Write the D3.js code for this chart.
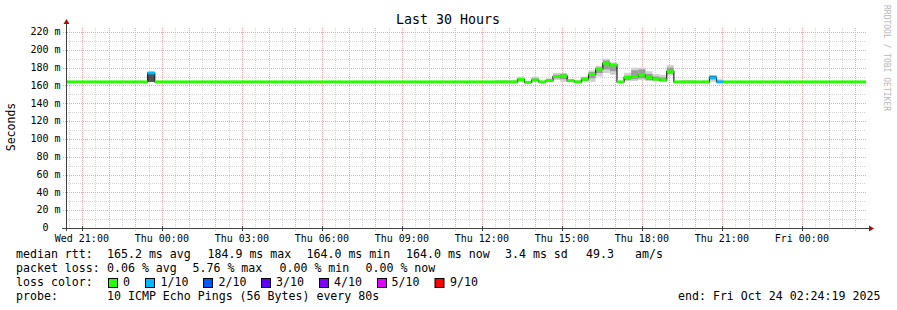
<!DOCTYPE html>
<html>
<head>
<meta charset="utf-8">
<script src="https://cdn.jsdelivr.net/npm/d3@7"></script>
<style>
  body { margin: 0; background: #fff; }
  svg text { font-family: "DejaVu Sans Mono", monospace; fill: #000; }
</style>
</head>
<body>
<svg id="chart" width="897" height="310"></svg>
<script>
// time window of the graph (30 hours ending at the "end:" stamp)
var windowStart = new Date(2025, 9, 22, 20, 24, 19);
var windowEnd = new Date(2025, 9, 24, 2, 24, 19);

// consolidated rrd rows: 16 minute buckets, first one starts Wed 20:16
var firstBucket = new Date(2025, 9, 22, 20, 16, 0);
var bucketMinutes = 16;
var bucketCount = 113;
var baselineMs = 164.0;

// buckets that differ from the flat baseline
var bucketIdx  = [12,  61,  62,  63,  64,    65,    66,  67,  68,    69,  70,    71,    72,  73,  74,    75,    76,    77,  78,  79,  80,  81,    82,  83,  84,  85,    86,  87,  88,  90,    91,    92];
var medianMs   = [174, 164, 164, 164, 166.7, 163.5, 166, 164, 165.5, 170, 170.6, 165.4, 164, 167, 172.5, 178.4, 184.8, 183, 164, 169, 170, 171.7, 169, 167, 166, 175.5, 164, 164, 164, 164,   168.5, 164];
var smokeLo    = [164, 164, 164, 164, 164,   163,   164, 164, 164,   166, 164,   164,   163, 164, 164,   170,   174,   172, 164, 165, 165, 166,   165, 165, 164, 171,   164, 164, 164, 164,   164,   164];
var smokeHi    = [174, 166, 166, 166, 170,   164.5, 170, 164, 168,   174, 174,   167,   166, 170, 177,   182,   190,   186, 164, 174, 180, 180,   176, 173, 172, 183,   164, 166, 166, 165.5, 171,   167];
var coreLo     = [164, 164, 164, 164, 165,   163.5, 165, 164, 164.5, 168, 167,   164,   164, 165, 168,   174,   178,   176, 164, 166, 167, 168,   166, 166, 165, 173,   164, 164, 164, 164,   168.5, 164];
var coreHi     = [174, 164, 164, 164, 168,   164,   168, 164, 167,   172, 173,   166,   164, 169, 175,   180,   188,   184, 164, 171, 177, 178,   173, 170, 169, 180,   164, 164, 164, 164,   171,   164];
var lossTenths = [1,   0,   0,   0,   0,     0,     0,   0,   0,     0,   0,     0,     0,   0,   0,     0,     0,     0,   0,   0,   0,   0,     0,   0,   0,   0,     0,   0,   0,   0,     1,     1];

// loss colour legend
var lossLabels = ["0", "1/10", "2/10", "3/10", "4/10", "5/10", "9/10"];
var lossColors = ["#26ff00", "#00b8ff", "#0059ff", "#5e00ff", "#7e00ff", "#dd00ff", "#ff0000"];
var lossSwatchX = [108.5, 145.5, 203.5, 261.5, 319.5, 377.5, 435];
var lossTextX = [123, 160.5, 218.5, 276, 334, 391.5, 450];

// legend rows: [x, text]
var rttRow = [[16, "median rtt:"], [107, "165.2 ms avg"], [207.5, "184.9 ms max"], [306.5, "164.0 ms min"], [406, "164.0 ms now"], [505, "3.4 ms sd"], [586, "49.3"], [635, "am/s"]];
var lossRow = [[16, "packet loss:"], [107, "0.06 % avg"], [192.5, "5.76 % max"], [279.5, "0.00 % min"], [365.5, "0.00 % now"]];
var probeRow = [[16, "probe:"], [107, "10 ICMP Echo Pings (56 Bytes) every 80s"], [678, "end: Fri Oct 24 02:24:19 2025"]];

var yTicks = [0, 20, 40, 60, 80, 100, 120, 140, 160, 180, 200, 220];

var Chart = {
    svg: d3.select("#chart"),
    x: d3.scaleTime().domain([windowStart, windowEnd]).range([66, 866]),
    y: d3.scaleLinear().domain([0, 224.5]).range([228, 28]),

    bucketTime: function(i) {
        return d3.timeMinute.offset(firstBucket, i * bucketMinutes);
    },

    // expand the sparse arrays into one row per bucket
    buildRows: function() {
        var rows = [];
        for (var i = 0; i < bucketCount; i++) {
            var k = bucketIdx.indexOf(i);
            rows.push({
                t0: Chart.bucketTime(i),
                t1: Chart.bucketTime(i + 1),
                med: k < 0 ? baselineMs : medianMs[k],
                lo: k < 0 ? baselineMs : smokeLo[k],
                hi: k < 0 ? baselineMs : smokeHi[k],
                clo: k < 0 ? baselineMs : coreLo[k],
                chi: k < 0 ? baselineMs : coreHi[k],
                loss: k < 0 ? 0 : lossTenths[k]
            });
        }
        return rows;
    },

    drawGrid: function() {
        var x = Chart.x, y = Chart.y, g = Chart.svg.append("g");
        // minor grid
        g.selectAll("line.vmin").data(d3.timeMinute.every(30).range(windowStart, windowEnd))
            .enter().append("line")
            .attr("x1", function(d) { return Math.round(x(d)) + 0.5; })
            .attr("x2", function(d) { return Math.round(x(d)) + 0.5; })
            .attr("y1", 28).attr("y2", 228)
            .attr("stroke", "#d4d4d4").attr("stroke-dasharray", "1,1");
        g.selectAll("line.hmin").data(d3.range(10, 221, 20))
            .enter().append("line")
            .attr("x1", 66).attr("x2", 866)
            .attr("y1", function(d) { return Math.round(y(d)) + 0.5; })
            .attr("y2", function(d) { return Math.round(y(d)) + 0.5; })
            .attr("stroke", "#d4d4d4").attr("stroke-dasharray", "1,1");
        // major grid
        g.selectAll("line.vmaj").data(d3.timeHour.every(1).range(windowStart, windowEnd))
            .enter().append("line")
            .attr("x1", function(d) { return Math.round(x(d)) + 0.5; })
            .attr("x2", function(d) { return Math.round(x(d)) + 0.5; })
            .attr("y1", 28).attr("y2", 231)
            .attr("stroke", "#f2a8a8").attr("stroke-dasharray", "1,1");
        g.selectAll("line.hmaj").data(yTicks.slice(1))
            .enter().append("line")
            .attr("x1", 63).attr("x2", 866)
            .attr("y1", function(d) { return Math.round(y(d)) + 0.5; })
            .attr("y2", function(d) { return Math.round(y(d)) + 0.5; })
            .attr("stroke", "#f2a8a8").attr("stroke-dasharray", "1,1");
    },

    drawSmoke: function(rows) {
        var x = Chart.x, y = Chart.y;
        var clip = Chart.svg.append("clipPath").attr("id", "plotclip")
            .append("rect").attr("x", 67).attr("y", 28).attr("width", 800).attr("height", 200);
        var g = Chart.svg.append("g").attr("clip-path", "url(#plotclip)");
        var busy = rows.filter(function(d) { return d.hi > d.lo; });
        g.selectAll("rect.outer").data(busy).enter().append("rect")
            .attr("x", function(d) { return x(d.t0); })
            .attr("width", function(d) { return x(d.t1) - x(d.t0); })
            .attr("y", function(d) { return y(d.hi); })
            .attr("height", function(d) { return y(d.lo) - y(d.hi); })
            .attr("fill", "#d2d2d2");
        var core = rows.filter(function(d) { return d.chi > d.clo; });
        g.selectAll("rect.core").data(core).enter().append("rect")
            .attr("x", function(d) { return x(d.t0); })
            .attr("width", function(d) { return x(d.t1) - x(d.t0); })
            .attr("y", function(d) { return y(d.chi); })
            .attr("height", function(d) { return y(d.clo) - y(d.chi); })
            .attr("fill", function(d) { return d.loss > 0 ? "#505050" : "#9c9c9c"; });

        // dark median step line, then loss coloured band on top
        var pts = [];
        rows.forEach(function(d) { pts.push([x(d.t0), y(d.med)]); pts.push([x(d.t1), y(d.med)]); });
        g.append("path")
            .attr("d", d3.line()(pts))
            .attr("fill", "none").attr("stroke", "#202020").attr("stroke-width", 1.2);
        g.selectAll("rect.band").data(rows).enter().append("rect")
            .attr("x", function(d) { return x(d.t0); })
            .attr("width", function(d) { return x(d.t1) - x(d.t0); })
            .attr("y", function(d) { return y(d.med) - 1.5; })
            .attr("height", 3)
            .attr("fill", function(d) { return lossColors[d.loss]; });
    },

    drawAxes: function() {
        var x = Chart.x, y = Chart.y, svg = Chart.svg;
        svg.append("line").attr("x1", 66.5).attr("x2", 66.5).attr("y1", 231).attr("y2", 22)
            .attr("stroke", "#404040");
        svg.append("line").attr("x1", 62).attr("x2", 870).attr("y1", 228.5).attr("y2", 228.5)
            .attr("stroke", "#404040");
        svg.append("path").attr("d", "M63.5,24L66.5,19L69.5,24Z").attr("fill", "#a01010");
        svg.append("path").attr("d", "M869,225.5L874,228.5L869,231.5Z").attr("fill", "#a01010");

        // y labels
        svg.selectAll("text.ytick").data(yTicks).enter().append("text")
            .attr("x", function(d) { return d === 0 ? 48.5 : 60.5; })
            .attr("y", function(d) { return y(d); })
            .attr("dy", "0.33em")
            .attr("text-anchor", "end")
            .style("font-size", "10px")
            .text(function(d) { return d === 0 ? "0" : d + " m"; });

        // x labels every three hours
        var fmt = d3.timeFormat("%a %H:%M");
        var labels = d3.timeHour.every(3).range(windowStart, windowEnd);
        svg.selectAll("line.xtick").data(labels).enter().append("line")
            .attr("x1", function(d) { return Math.round(x(d)) + 0.5; })
            .attr("x2", function(d) { return Math.round(x(d)) + 0.5; })
            .attr("y1", 226).attr("y2", 231).attr("stroke", "#404040");
        svg.selectAll("text.xtick").data(labels).enter().append("text")
            .attr("x", function(d) { return x(d); })
            .attr("y", 242)
            .attr("text-anchor", "middle")
            .style("font-size", "10px")
            .text(fmt);

        svg.append("text").attr("transform", "translate(15,127) rotate(-90)")
            .attr("text-anchor", "middle").style("font-size", "11.5px").text("Seconds");
        svg.append("text").attr("x", 448).attr("y", 24).attr("text-anchor", "middle")
            .style("font-size", "13.3px").text("Last 30 Hours");
        svg.append("text").attr("transform", "translate(884,5) rotate(90)")
            .style("font-size", "8px").style("fill", "#b8b8b8").text("RRDTOOL / TOBI OETIKER");
    },

    drawLegend: function() {
        var svg = Chart.svg;
        [[rttRow, 258], [lossRow, 272], [probeRow, 300]].forEach(function(r) {
            svg.append("g").selectAll("text").data(r[0]).enter().append("text")
                .attr("x", function(d) { return d[0]; })
                .attr("y", r[1])
                .style("font-size", "11.6px")
                .text(function(d) { return d[1]; });
        });
        svg.append("text").attr("x", 16).attr("y", 286).style("font-size", "11.6px").text("loss color:");
        svg.selectAll("rect.sw").data(lossColors).enter().append("rect")
            .attr("x", function(d, i) { return lossSwatchX[i]; })
            .attr("y", 278.5).attr("width", 9).attr("height", 9)
            .attr("fill", function(d) { return d; })
            .attr("stroke", "#000").attr("stroke-width", 1);
        svg.selectAll("text.sw").data(lossLabels).enter().append("text")
            .attr("x", function(d, i) { return lossTextX[i]; })
            .attr("y", 286)
            .style("font-size", "11.6px")
            .text(function(d) { return d; });
    }
};

var rows = Chart.buildRows();
Chart.drawGrid();
Chart.drawSmoke(rows);
Chart.drawAxes();
Chart.drawLegend();
</script>
</body>
</html>
